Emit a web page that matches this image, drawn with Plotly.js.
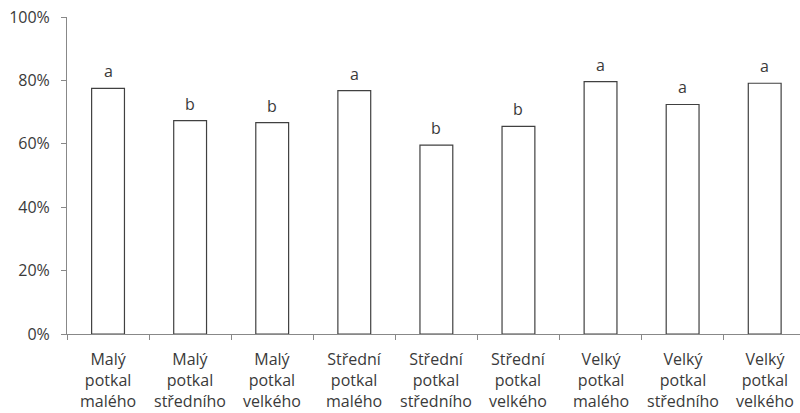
<!DOCTYPE html>
<html>
<head>
<meta charset="utf-8">
<script src="https://cdn.plot.ly/plotly-3.0.1.min.js"></script>
<style>html,body{margin:0;padding:0;background:#fff;}#chart{width:800px;height:413px;}</style>
</head>
<body>
<div id="chart"></div>
<script>
const line1 = ["Malý","Malý","Malý","Střední","Střední","Střední","Velký","Velký","Velký"];
const line2 = ["potkal","potkal","potkal","potkal","potkal","potkal","potkal","potkal","potkal"];
const line3 = ["malého","středního","velkého","malého","středního","velkého","malého","středního","velkého"];
const categories = line1.map((a,i)=>a+" "+line2[i]+" "+line3[i]);
const values = [77.5, 67.3, 66.7, 76.8, 59.6, 65.5, 79.6, 72.4, 79.1];
const letters = ["a","b","b","a","b","b","a","a","a"];
const yTicks = [0,20,40,60,80,100];
const yTickText = ["0%","20%","40%","60%","80%","100%"];

const FONT = "Open Sans, sans-serif";
const TXT = "#3a3a3a";

const trace = {
  type: "bar",
  x: categories,
  y: values,
  width: 0.4,
  marker: {color: "#ffffff", line: {color: "#404040", width: 1.2}},
  hoverinfo: "none"
};

const annotations = [];
categories.forEach((c,i)=>{
  annotations.push({x:c, y:values[i], xref:"x", yref:"y", text:letters[i], showarrow:false,
    yanchor:"bottom", yshift:4, font:{family:FONT, size:16, color:TXT}});
  annotations.push({x:c, xref:"x", yref:"paper", y:-0.2496, yanchor:"bottom", borderpad:0,
    text:[line1[i], line2[i], line3[i]].join("<br>"), showarrow:false,
    font:{family:FONT, size:16, color:TXT}});
});

const layout = {
  width: 800, height: 413,
  margin: {l: 67, r: 0, t: 17, b: 79, pad: 0},
  paper_bgcolor: "#fff", plot_bgcolor: "#fff",
  showlegend: false,
  font: {family: FONT, size: 16, color: TXT},
  xaxis: {
    type: "category",
    range: [-0.5, 8.43],
    showticklabels: false,
    ticks: "outside", tickson: "boundaries", ticklen: 5, tickcolor: "#888888",
    showline: true, linecolor: "#888888", linewidth: 1,
    showgrid: false, zeroline: false, fixedrange: true
  },
  yaxis: {
    range: [0, 100],
    tickvals: yTicks, ticktext: yTickText,
    ticks: "outside", ticklen: 5, tickcolor: "#888888",
    showline: true, linecolor: "#888888", linewidth: 1,
    showgrid: false, zeroline: false,
    tickfont: {family: FONT, size: 16, color: TXT},
    ticklabelstandoff: 8, fixedrange: true
  },
  annotations: annotations
};

Plotly.newPlot("chart", [trace], layout, {displayModeBar: false, staticPlot: true});
</script>
</body>
</html>
